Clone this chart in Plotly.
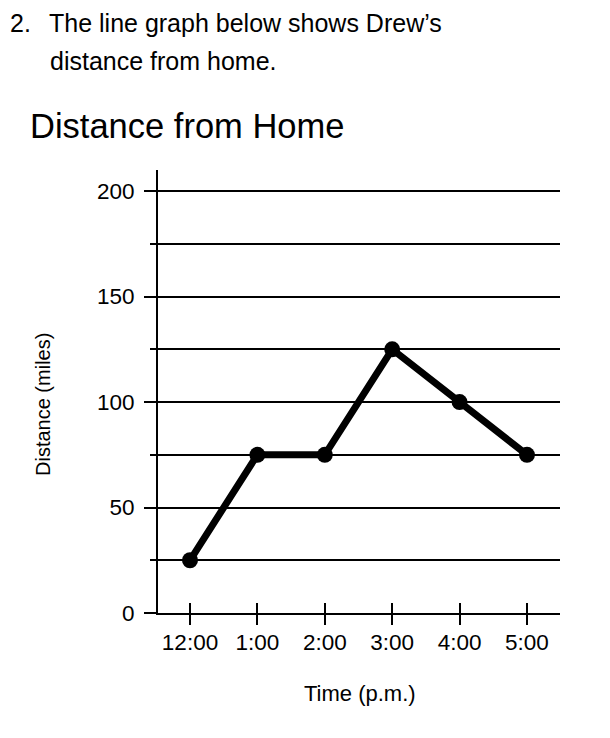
import plotly.graph_objects as go

times = ["12:00", "1:00", "2:00", "3:00", "4:00", "5:00"]
distance = [25, 75, 75, 125, 100, 75]
y_ticks = [0, 50, 100, 150, 200]

# page has an 8px body margin; all reference page coordinates are shifted by OFF
OFF = 8
W, H = 610 - 2 * OFF, 738 - 2 * OFF
L = 158 - OFF
T = 170 - OFF
R = W - (560 - OFF)
B = H - (613 - OFF)
pw = W - L - R
ph = H - T - B

def px(x):
    return (x - OFF - L) / pw

def py(y):
    return 1 - (y - OFF - T) / ph

FONT = "Liberation Sans, Arial, sans-serif"

fig = go.Figure()
fig.add_trace(go.Scatter(
    x=times, y=distance, mode="lines+markers",
    line=dict(color="black", width=7),
    marker=dict(color="black", size=16),
    showlegend=False, hoverinfo="x+y",
))
# duplicate (invisible) on overlay axis so the upward half of the x ticks is drawn
fig.add_trace(go.Scatter(
    x=times, y=distance, mode="markers", xaxis="x2",
    marker=dict(opacity=0), showlegend=False, hoverinfo="skip",
))

xrange = [-0.475, 5.49]
fig.update_layout(
    width=W, height=H,
    margin=dict(l=L, r=R, t=T, b=B, pad=0),
    paper_bgcolor="white", plot_bgcolor="white",
    font=dict(family=FONT, color="black"),
    title=dict(text="Distance from Home", x=(30 - OFF) / W, xanchor="left",
               y=1 - (126 - OFF) / H, yanchor="middle",
               font=dict(size=34.5, family=FONT, color="black")),
    xaxis=dict(
        type="category", range=xrange, showgrid=False, zeroline=False,
        showline=True, linecolor="black", linewidth=2,
        ticks="outside", ticklen=10, tickwidth=2, tickcolor="black",
        tickfont=dict(size=22.5, family=FONT, color="black"),
        ticklabelstandoff=-2,
        fixedrange=True,
    ),
    xaxis2=dict(
        type="category", range=xrange, overlaying="x", anchor="y", side="bottom",
        showgrid=False, zeroline=False, showline=False,
        ticks="inside", ticklen=10, tickwidth=2, tickcolor="black",
        showticklabels=False, fixedrange=True,
    ),
    yaxis=dict(
        range=[0, 210], tickvals=y_ticks, showgrid=True, gridcolor="black", gridwidth=2,
        zeroline=False, showline=True, linecolor="black", linewidth=2,
        ticks="outside", ticklen=12, tickwidth=2, tickcolor="black",
        tickfont=dict(size=22.5, family=FONT, color="black"),
        ticklabelstandoff=5,
        minor=dict(dtick=25, tick0=0, showgrid=True, gridcolor="black", gridwidth=1.5,
                   ticks="outside", ticklen=6, tickwidth=1.5, tickcolor="black"),
        fixedrange=True,
    ),
    annotations=[
        dict(text="2.", xref="paper", yref="paper", x=px(9), y=py(8),
             xanchor="left", yanchor="top", showarrow=False, borderpad=0,
             font=dict(size=25, family=FONT, color="black")),
        dict(text="The line graph below shows Drew\u2019s", xref="paper", yref="paper",
             x=px(48), y=py(8), xanchor="left", yanchor="top", showarrow=False,
             borderpad=0, font=dict(size=25, family=FONT, color="black")),
        dict(text="distance from home.", xref="paper", yref="paper",
             x=px(48), y=py(61), xanchor="left", yanchor="middle", showarrow=False,
             font=dict(size=25, family=FONT, color="black")),
        dict(text="Distance (miles)", xref="paper", yref="paper",
             x=px(43), y=py(405), xanchor="center", yanchor="middle", textangle=-90,
             showarrow=False, font=dict(size=20, family=FONT, color="black")),
        dict(text="Time (p.m.)", xref="paper", yref="paper",
             x=px(360), y=py(693), xanchor="center", yanchor="middle",
             showarrow=False, font=dict(size=22, family=FONT, color="black")),
    ],
)

fig.write_html("out.html")
